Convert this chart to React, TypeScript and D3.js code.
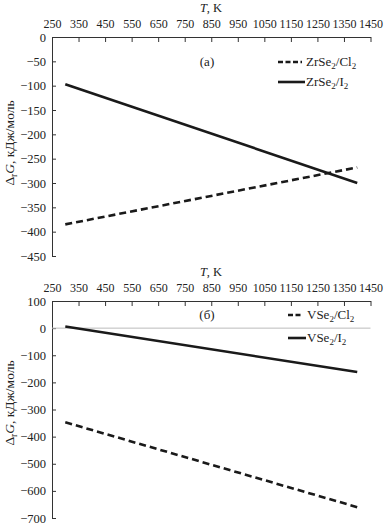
import * as d3 from "d3";
import { useEffect, useRef } from "react";

// температуры (K)
const temps = [300, 1400];

// панель (а)
const zrCl2 = [-385, -268];
const zrI2 = [-97, -300];
const topTicksY = [0, -50, -100, -150, -200, -250, -300, -350, -400, -450];

// панель (б)
const vCl2 = [-347, -660];
const vI2 = [6, -162];
const botTicksY = [100, 0, -100, -200, -300, -400, -500, -600, -700];

const tTicks = [250, 350, 450, 550, 650, 750, 850, 950, 1050, 1150, 1250, 1350, 1450];

const W = 384;
const H = 527;
const FONT = "'Liberation Serif', 'Times New Roman', serif";

const App = () => {
  const svgRef = useRef<SVGSVGElement>(null);

  useEffect(() => {
    const svg = d3.select(svgRef.current);
    svg.selectAll("*").remove();

    const x = d3.scaleLinear().domain([250, 1450]).range([52, 370.5]);

    const panel = (
      top: number,
      bottom: number,
      yDomain: [number, number],
      yTicks: number[],
      s1: number[],
      s2: number[],
      tag: string,
      names: [string, string],
      legX: number,
      textX: number,
      legY: number,
      legGap: number,
      labelY: number,
      zeroLine: boolean
    ) => {
      const y = d3.scaleLinear().domain(yDomain).range([top, bottom]);
      const g = svg.append("g");

      //ось T сверху
      const ax = g.append("g")
        .attr("transform", `translate(0,${top})`)
        .call(d3.axisTop(x).tickValues(tTicks).tickSize(-5).tickSizeOuter(0).tickPadding(9.5).tickFormat(d3.format("d")));
      ax.selectAll("text").style("font-size", "12px").style("font-family", FONT).style("fill", "#222");
      ax.selectAll("line,path").attr("stroke", "#333");

      //ось y
      const ay = g.append("g")
        .attr("transform", `translate(${x(250)},0)`)
        .call(d3.axisLeft(y).tickValues(yTicks).tickSize(-4).tickSizeOuter(0).tickPadding(6));
      ay.selectAll("text").style("font-size", "12.5px").style("font-family", FONT).style("fill", "#222");
      ay.selectAll("line,path").attr("stroke", "#333");

      if (zeroLine) {
        g.append("line")
          .attr("x1", x(250)).attr("x2", x(1450))
          .attr("y1", y(0)).attr("y2", y(0))
          .attr("stroke", "#bbb").attr("stroke-width", 1);
      }

      //подпись T, K
      const tt = g.append("text")
        .attr("x", 211).attr("y", top - 25.5)
        .attr("text-anchor", "middle")
        .style("font-size", "12.5px").style("font-family", FONT).style("fill", "#222");
      tt.append("tspan").style("font-style", "italic").text("T");
      tt.append("tspan").text(", K");

      //подпись оси y
      const yl = g.append("text")
        .attr("transform", `translate(14,${labelY}) rotate(-90)`)
        .attr("text-anchor", "middle")
        .style("font-size", "13.5px").style("font-family", FONT).style("fill", "#222");
      yl.append("tspan").text("Δ");
      yl.append("tspan").attr("dy", 3).style("font-size", "9.5px").text("r");
      yl.append("tspan").attr("dy", -3).style("font-style", "italic").text("G");
      yl.append("tspan").text(", кДж/моль");

      const line = d3.line<number>().x((_, i) => x(temps[i])).y(d => y(d));

      g.append("path").attr("d", line(s1)!)
        .attr("fill", "none").attr("stroke", "#1a1a1a").attr("stroke-width", 2.6)
        .attr("stroke-dasharray", "7,4");
      g.append("path").attr("d", line(s2)!)
        .attr("fill", "none").attr("stroke", "#1a1a1a").attr("stroke-width", 2.6);

      //метка панели
      g.append("text")
        .attr("x", 207).attr("y", legY + 4)
        .attr("text-anchor", "middle")
        .style("font-size", "13px").style("font-family", FONT).style("fill", "#222")
        .text(tag);

      //легенда
      names.forEach((name, i) => {
        const cy = legY + i * legGap;
        g.append("line")
          .attr("x1", legX).attr("x2", textX - (i === 0 ? 4 : 1))
          .attr("y1", cy).attr("y2", cy)
          .attr("stroke", "#1a1a1a").attr("stroke-width", 2.6)
          .attr("stroke-dasharray", i === 0 ? "5,2.5" : null);
        const t = g.append("text")
          .attr("x", textX).attr("y", cy + 4)
          .style("font-size", "13px").style("font-family", FONT).style("fill", "#222");
        const [base, rest] = name.split("2/");
        t.append("tspan").text(base);
        t.append("tspan").attr("dy", 3).style("font-size", "9px").text("2");
        t.append("tspan").attr("dy", -3).text("/" + rest.replace(/2$/, ""));
        t.append("tspan").attr("dy", 3).style("font-size", "9px").text("2");
      });
    };

    panel(37, 256, [0, -450], topTicksY, zrCl2, zrI2, "(a)", ["ZrSe2/Cl2", "ZrSe2/I2"], 278, 306, 62, 20, 143, false);
    panel(301, 518, [100, -700], botTicksY, vCl2, vI2, "(б)", ["VSe2/Cl2", "VSe2/I2"], 288, 307, 315, 23, 403, true);
  }, []);

  return (
    <svg ref={svgRef} width={W} height={H}
      style={{ position: "absolute", left: 0, top: 0, background: "#fff" }} />
  );
};

export default App;
